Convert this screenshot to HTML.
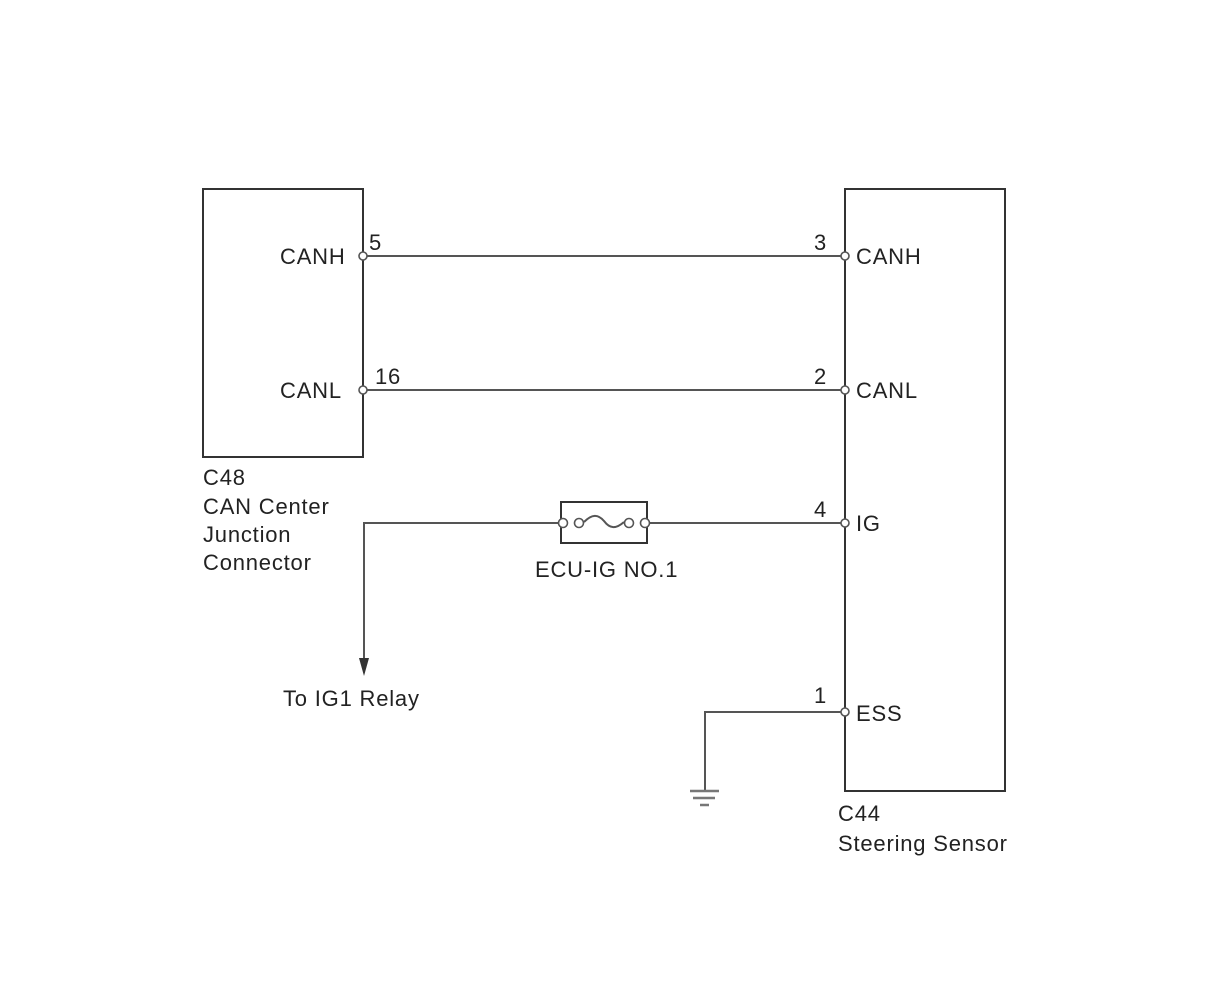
<!DOCTYPE html>
<html><head><meta charset="utf-8"><style>
html,body{margin:0;padding:0;background:#fff;}
svg text{font-family:"Liberation Sans",Arial,sans-serif;font-size:22px;letter-spacing:0.8px;fill:#222;}
</style></head><body>
<svg width="1210" height="986" viewBox="0 0 1210 986" xmlns="http://www.w3.org/2000/svg">
<g fill="none" stroke="#333" stroke-width="2">
<rect x="203" y="189" width="160" height="268"/>
<rect x="845" y="189" width="160" height="602"/>
</g>
<g stroke="#555" stroke-width="2" fill="none">
<line x1="363" y1="256" x2="845" y2="256"/>
<line x1="363" y1="390" x2="845" y2="390"/>
<line x1="645" y1="523" x2="845" y2="523"/>
<polyline points="563,523 364,523 364,662"/>
<polyline points="845,712 705,712 705,791"/>
<path d="M584,522 C592,514 598,514 604,521 C610,529 616,529 624,522"/>
</g>
<polygon points="359,658 369,658 364,676" fill="#333"/>
<rect x="561" y="502" width="86" height="41" fill="none" stroke="#333" stroke-width="2"/>
<g stroke="#555" stroke-width="1.6" fill="#fff">
<circle cx="563" cy="523" r="4.5"/><circle cx="579" cy="523" r="4.5"/>
<circle cx="629" cy="523" r="4.5"/><circle cx="645" cy="523" r="4.5"/>
<circle cx="363" cy="256" r="4"/><circle cx="363" cy="390" r="4"/>
<circle cx="845" cy="256" r="4"/><circle cx="845" cy="390" r="4"/>
<circle cx="845" cy="523" r="4"/><circle cx="845" cy="712" r="4"/>
</g>
<g stroke="#777" stroke-width="2.5">
<line x1="690" y1="791" x2="719" y2="791"/>
<line x1="693" y1="798" x2="715" y2="798"/>
<line x1="700" y1="805" x2="709" y2="805"/>
</g>
<text x="280" y="264">CANH</text>
<text x="280" y="398">CANL</text>
<text x="369" y="250">5</text>
<text x="375" y="384">16</text>
<text x="814" y="250">3</text>
<text x="814" y="384">2</text>
<text x="814" y="517">4</text>
<text x="814" y="703">1</text>
<text x="856" y="264">CANH</text>
<text x="856" y="398">CANL</text>
<text x="856" y="531">IG</text>
<text x="856" y="721">ESS</text>
<text x="203" y="485">C48</text>
<text x="203" y="514">CAN Center</text>
<text x="203" y="542">Junction</text>
<text x="203" y="570">Connector</text>
<text x="535" y="577">ECU-IG NO.1</text>
<text x="283" y="706">To IG1 Relay</text>
<text x="838" y="821">C44</text>
<text x="838" y="851">Steering Sensor</text>
</svg>
</body></html>
